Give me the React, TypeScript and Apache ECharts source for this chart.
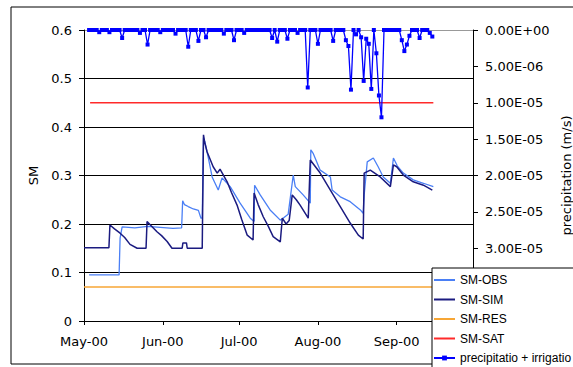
import React, { useEffect, useRef } from 'react';
import * as echarts from 'echarts';

// Days are counted from 1 May 2000
const SEASON_START = new Date(2000, 4, 1).getTime();
const DAY_MS = 86400000;
const AXIS_END_DAY = 153;
const MONTH_LABELS = ['Jan', 'Feb', 'Mar', 'Apr', 'May', 'Jun', 'Jul', 'Aug', 'Sep', 'Oct', 'Nov', 'Dec'];

const SM_TICKS_MAX = 0.6;
const PRECIP_AXIS_MAX = 4e-5;

// SM-OBS (observed soil moisture)
const obsDays = [2, 13.8, 14.2, 15, 20, 25, 30, 35, 38.4, 38.8, 39.5, 41, 43, 45, 46, 46.5, 47.0, 47.5, 48.8, 50.4, 52.8, 54.3, 57.5, 61.4, 65.4, 66.9, 67.1, 69.3, 73.2, 77.2, 78.3, 80.3, 82.3, 83.1, 86.2, 89, 89.2, 90.2, 92.9, 96.9, 97.6, 100.8, 104.7, 108.7, 109.8, 110.2, 111.4, 113.8, 115.7, 117.7, 120.5, 121.7, 123.2, 125.6, 129.5, 133.5, 137.4];
const obsValues = [0.095, 0.095, 0.171, 0.194, 0.192, 0.195, 0.193, 0.191, 0.192, 0.248, 0.24, 0.236, 0.231, 0.228, 0.212, 0.212, 0.378, 0.37, 0.339, 0.297, 0.27, 0.295, 0.277, 0.243, 0.212, 0.205, 0.28, 0.26, 0.229, 0.208, 0.212, 0.22, 0.301, 0.277, 0.26, 0.243, 0.353, 0.345, 0.311, 0.297, 0.27, 0.256, 0.246, 0.229, 0.222, 0.26, 0.328, 0.336, 0.318, 0.297, 0.284, 0.336, 0.32, 0.305, 0.291, 0.284, 0.277];

// SM-SIM (simulated soil moisture)
const simDays = [0, 9.8, 10.2, 12, 14.2, 16, 18.1, 20.9, 24.4, 24.8, 26.5, 28.7, 30.5, 32.7, 34.6, 38.6, 38.9, 40.3, 40.6, 46.5, 47.0, 47.4, 48.4, 50.8, 52.4, 53.5, 56.3, 58, 60.2, 62, 64.2, 66.5, 66.9, 68.5, 70.5, 72.5, 74.4, 77.2, 78, 79.5, 80.7, 81.9, 83.5, 85, 88.2, 89, 92.9, 96.9, 100.8, 104.7, 107.9, 109.8, 110.2, 112.6, 116.5, 120.5, 121.7, 123, 125.6, 129.5, 133.5, 137];
const simValues = [0.151, 0.151, 0.198, 0.19, 0.181, 0.172, 0.158, 0.15, 0.15, 0.205, 0.196, 0.184, 0.176, 0.164, 0.15, 0.15, 0.161, 0.161, 0.15, 0.15, 0.384, 0.37, 0.349, 0.318, 0.305, 0.313, 0.287, 0.265, 0.239, 0.21, 0.177, 0.167, 0.264, 0.24, 0.215, 0.195, 0.174, 0.163, 0.212, 0.2, 0.207, 0.26, 0.25, 0.239, 0.212, 0.332, 0.305, 0.27, 0.236, 0.202, 0.177, 0.169, 0.305, 0.311, 0.297, 0.277, 0.322, 0.318, 0.301, 0.287, 0.28, 0.27];

// SM-RES (residual) and SM-SAT (saturation)
const resDays = [0, 137.4];
const resValues = [0.07, 0.07];
const satDays = [2.4, 137.4];
const satValues = [0.45, 0.45];

// precipitation + irrigation (m/s), daily; days not listed are 0
const PRECIP_FIRST_DAY = 2;
const PRECIP_LAST_DAY = 137;
const precipEventDays = [6, 10, 15, 22, 25, 30, 36, 41, 45, 48, 55, 59, 63, 74, 76, 80, 84, 88, 92, 98, 103, 104, 105, 107, 109, 110, 111, 112, 113, 115, 116, 117, 125, 126, 127, 128, 132, 136, 137];
const precipEventValues = [0.3e-6, 0.3e-6, 1.1e-6, 0.4e-6, 2.0e-6, 0.3e-6, 0.5e-6, 2.3e-6, 1.5e-6, 1.0e-6, 0.5e-6, 1.4e-6, 0.4e-6, 1.1e-6, 1.6e-6, 1.2e-6, 0.4e-6, 7.9e-6, 1.9e-6, 1.5e-6, 1.4e-6, 2.2e-6, 8.2e-6, 0.6e-6, 1.0e-6, 7.0e-6, 1.2e-6, 1.9e-6, 8.1e-6, 3.2e-6, 9.0e-6, 1.2e-5, 1.4e-6, 2.9e-6, 2.0e-6, 0.8e-6, 1.1e-6, 0.4e-6, 0.9e-6];

const FONT = 'DejaVu Sans';
const LEGEND_FONT = 'Liberation Sans';

const toTime = (d: number) => SEASON_START + d * DAY_MS;
const pairs = (days: number[], vals: number[]) => days.map((d, i) => [toTime(d), vals[i]]);

function sciLabel(v: number): string {
  const [m, e] = v.toExponential(2).split('e');
  const sign = e[0] === '-' ? '-' : '+';
  const digits = e.replace(/[+-]/, '').padStart(2, '0');
  return `${m}E${sign}${digits}`;
}

function buildPrecip() {
  const out: number[][] = [];
  for (let d = PRECIP_FIRST_DAY; d <= PRECIP_LAST_DAY; d++) {
    const idx = precipEventDays.indexOf(d);
    out.push([toTime(d), idx >= 0 ? precipEventValues[idx] : 0]);
  }
  return out;
}

const lineOnly = (name: string) => ({ name, itemStyle: { opacity: 0 } });

export default function App() {
  const ref = useRef<HTMLDivElement>(null);

  useEffect(() => {
    if (!ref.current) return;
    const chart = echarts.init(ref.current, undefined, { renderer: 'svg' });
    chart.setOption({
      animation: false,
      backgroundColor: '#ffffff',
      textStyle: { fontFamily: FONT },
      graphic: [
        {
          type: 'rect',
          silent: true,
          z: 0,
          shape: { x: 11, y: 7, width: 620, height: 357 },
          style: { fill: 'transparent', stroke: '#000', lineWidth: 1 },
        },
      ],
      grid: {
        left: 84,
        top: 30,
        width: 389,
        height: 291,
        containLabel: false,
        outerBoundsMode: 'none',
      },
      legend: {
        orient: 'vertical',
        left: 432,
        top: 268,
        height: 140,
        itemWidth: 21,
        itemHeight: 6,
        itemGap: 7.5,
        padding: [6, 4, 4, 1],
        backgroundColor: '#ffffff',
        borderColor: '#000',
        borderWidth: 1,
        borderRadius: 0,
        selectedMode: false,
        z: 100,
        textStyle: { fontFamily: LEGEND_FONT, fontSize: 12, color: '#000' },
        data: [
          lineOnly('SM-OBS'),
          lineOnly('SM-SIM'),
          lineOnly('SM-RES'),
          lineOnly('SM-SAT'),
          { name: 'precipitatio + irrigatio' },
        ],
      },
      xAxis: {
        type: 'time',
        min: toTime(0),
        max: toTime(AXIS_END_DAY),
        minInterval: 28 * DAY_MS,
        splitNumber: 5,
        axisLine: { show: true, lineStyle: { color: '#000', width: 1 } },
        axisTick: { show: true, inside: false, length: 4, lineStyle: { color: '#000' } },
        splitLine: { show: false },
        axisLabel: {
          margin: 14,
          fontFamily: FONT,
          fontSize: 13,
          color: '#000',
          showMaxLabel: false,
          formatter: (v: number) => {
            const m = new Date(v).getMonth();
            if (m < 4 || m > 8) return '';
            return `${MONTH_LABELS[m]}-00`;
          },
        },
      },
      yAxis: [
        {
          type: 'value',
          min: 0,
          max: SM_TICKS_MAX,
          interval: 0.1,
          name: 'SM',
          nameLocation: 'middle',
          nameRotate: 90,
          nameGap: 44,
          nameTextStyle: { fontFamily: FONT, fontSize: 13, color: '#000' },
          axisLine: { show: true, lineStyle: { color: '#000', width: 1 } },
          axisTick: { show: true, inside: false, length: 5, lineStyle: { color: '#000' } },
          splitLine: {
            show: true,
            lineStyle: { color: ['#000', '#000', '#000', '#000', '#000', '#000', '#999'], width: 1 },
          },
          axisLabel: {
            margin: 12,
            fontFamily: FONT,
            fontSize: 13,
            color: '#000',
            formatter: (v: number) => String(Math.round(v * 10) / 10),
          },
        },
        {
          type: 'value',
          position: 'right',
          inverse: true,
          min: 0,
          max: PRECIP_AXIS_MAX,
          interval: 5e-6,
          name: 'precipitation (m/s)',
          nameLocation: 'middle',
          nameRotate: 90,
          nameGap: 85,
          nameTextStyle: { fontFamily: FONT, fontSize: 13, color: '#000' },
          axisLine: { show: true, lineStyle: { color: '#000', width: 1 } },
          axisTick: { show: true, inside: false, length: 5, lineStyle: { color: '#000' } },
          splitLine: { show: false },
          axisLabel: {
            margin: 12,
            fontFamily: FONT,
            fontSize: 13,
            color: '#000',
            formatter: (v: number) => (v > 3.2e-5 ? '' : sciLabel(v)),
          },
        },
      ],
      series: [
        {
          name: 'SM-OBS',
          type: 'line',
          yAxisIndex: 0,
          data: pairs(obsDays, obsValues),
          symbol: 'none',
          showSymbol: false,
          lineStyle: { color: '#4a7ff5', width: 1.3 },
          itemStyle: { color: '#4a7ff5' },
          z: 3,
        },
        {
          name: 'SM-SIM',
          type: 'line',
          yAxisIndex: 0,
          data: pairs(simDays, simValues),
          symbol: 'none',
          showSymbol: false,
          lineStyle: { color: '#1b1b80', width: 1.5 },
          itemStyle: { color: '#1b1b80' },
          z: 4,
        },
        {
          name: 'SM-RES',
          type: 'line',
          yAxisIndex: 0,
          data: pairs(resDays, resValues),
          symbol: 'none',
          showSymbol: false,
          lineStyle: { color: '#f7a635', width: 1.5 },
          itemStyle: { color: '#f7a635' },
        },
        {
          name: 'SM-SAT',
          type: 'line',
          yAxisIndex: 0,
          data: pairs(satDays, satValues),
          symbol: 'none',
          showSymbol: false,
          lineStyle: { color: '#ff2a2a', width: 1.5 },
          itemStyle: { color: '#ff2a2a' },
        },
        {
          name: 'precipitatio + irrigatio',
          type: 'line',
          yAxisIndex: 1,
          data: buildPrecip(),
          symbol: 'rect',
          symbolSize: 4,
          showSymbol: true,
          lineStyle: { color: '#0000ff', width: 1.3 },
          itemStyle: { color: '#0000ff' },
          z: 5,
        },
      ],
    });
    return () => chart.dispose();
  }, []);

  return (
    <div
      ref={ref}
      style={{ position: 'absolute', left: 0, top: 0, width: 573, height: 367 }}
    />
  );
}
